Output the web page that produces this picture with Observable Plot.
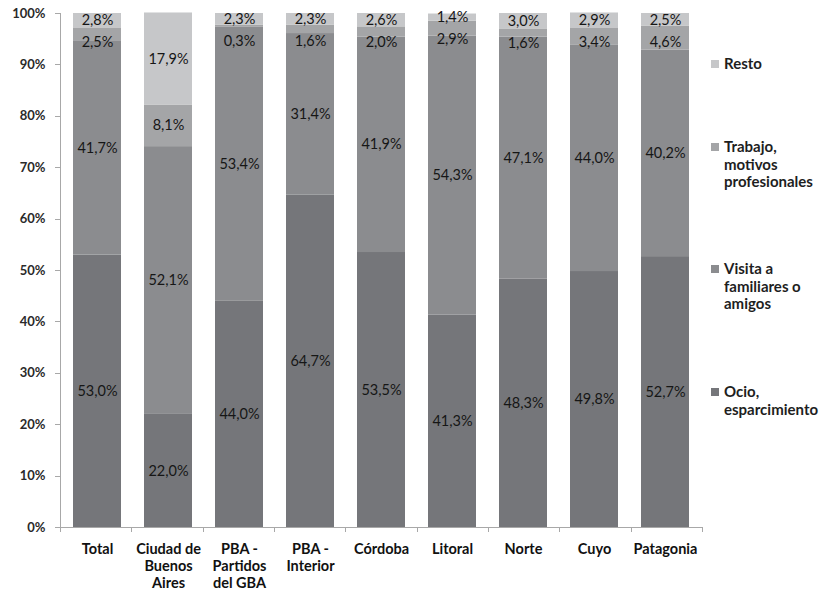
<!DOCTYPE html>
<html>
<head>
<meta charset="utf-8">
<script src="https://cdn.jsdelivr.net/npm/d3@7"></script>
<script src="https://cdn.jsdelivr.net/npm/@observablehq/plot@0.6"></script>
<style>
  body { margin: 0; background: #fff; }
  #chart { position: relative; width: 826px; height: 600px; font-family: Lato, "Open Sans", sans-serif; }
  .legend-item { position: absolute; left: 711px; font-weight: bold; font-size: 15px; line-height: 17.5px; color: #1e1e1e; padding-left: 13px; }
  .legend-item .sw { position: absolute; left: 0; top: 5px; width: 8px; height: 8px; }
</style>
</head>
<body>
<div id="chart"></div>
<script>
// Motivo del viaje por región de destino (% de viajes)
const regions = ["Total", "Ciudad de Buenos Aires", "PBA - Partidos del GBA", "PBA - Interior", "Córdoba", "Litoral", "Norte", "Cuyo", "Patagonia"];
const regionTickLabels = ["Total", "Ciudad de\nBuenos\nAires", "PBA -\nPartidos\ndel GBA", "PBA -\nInterior", "Córdoba", "Litoral", "Norte", "Cuyo", "Patagonia"];
const motives = ["Ocio, esparcimiento", "Visita a familiares o amigos", "Trabajo, motivos profesionales", "Resto"];
const legendLabels = ["Ocio,\nesparcimiento", "Visita a\nfamiliares o\namigos", "Trabajo,\nmotivos\nprofesionales", "Resto"];

const ocio    = [53.0, 22.0, 44.0, 64.7, 53.5, 41.3, 48.3, 49.8, 52.7];
const visita  = [41.7, 52.1, 53.4, 31.4, 41.9, 54.3, 47.1, 44.0, 40.2];
const trabajo = [2.5, 8.1, 0.3, 1.6, 2.0, 2.9, 1.6, 3.4, 4.6];
const resto   = [2.8, 17.9, 2.3, 2.3, 2.6, 1.4, 3.0, 2.9, 2.5];

const yTicks = [0, 10, 20, 30, 40, 50, 60, 70, 80, 90, 100];
const motiveColors = ["#75767a", "#8b8c8f", "#a4a5a7", "#c6c7c9"];

const series = [ocio, visita, trabajo, resto];

// Tidy rows, bottom-to-top stacking order follows `motives`
const rows = [];
regions.forEach((r, i) => {
  motives.forEach((m, k) => rows.push({ region: r, motive: m, value: series[k][i] }));
});

// Label positions: segment midpoints; the thin "Trabajo" segment label is
// nudged below the "Resto" label so the two never collide.
const labels = [];
regions.forEach((r, i) => {
  let base = 0;
  const mids = series.map(s => { const mid = base + s[i] / 2; base += s[i]; return mid; });
  mids[2] = Math.min(mids[2], mids[3] - 4.3);
  series.forEach((s, k) => labels.push({ region: r, value: s[i], y: mids[k] }));
});

const fmt = v => d3.format(".1f")(v).replace(".", ",") + "%";
const tickLabelOf = new Map(regions.map((r, i) => [r, regionTickLabels[i]]));

// Axis lines, y ticks, and category-boundary ticks along the bottom
function axisLines(index, scales, values, dims) {
  const { width, height, marginLeft, marginRight, marginTop, marginBottom } = dims;
  const x0 = marginLeft, x1 = width - marginRight, y0 = height - marginBottom;
  const step = (x1 - x0) / regions.length;
  const g = d3.create("svg:g").attr("stroke", "#a8a8a8").attr("stroke-width", 1).attr("fill", "none");
  g.append("line").attr("x1", x0 + 0.5).attr("x2", x0 + 0.5).attr("y1", marginTop).attr("y2", y0);
  g.append("line").attr("x1", x0).attr("x2", x1).attr("y1", y0 + 0.5).attr("y2", y0 + 0.5);
  for (let k = 0; k <= regions.length; ++k) {
    const xx = Math.round(x0 + k * step) + 0.5;
    g.append("line").attr("x1", xx).attr("x2", xx).attr("y1", y0).attr("y2", y0 + 5);
  }
  for (const t of yTicks) {
    const yy = Math.round(scales.y(t)) + 0.5;
    g.append("line").attr("x1", x0 - 5).attr("x2", x0).attr("y1", yy).attr("y2", yy);
  }
  return g.node();
}

const chart = Plot.plot({
  width: 826,
  height: 600,
  marginLeft: 60,
  marginRight: 124,
  marginTop: 13,
  marginBottom: 73,
  style: { fontFamily: "Lato, 'Open Sans', sans-serif", background: "#fff" },
  x: { domain: regions, paddingInner: 0.33, paddingOuter: 0.165 },
  y: { domain: [0, 100] },
  color: { domain: motives, range: motiveColors },
  marks: [
    Plot.barY(rows, Plot.stackY({ x: "region", y: "value", z: "motive", fill: "motive", order: null })),
    Plot.text(labels, { x: "region", y: "y", text: d => fmt(d.value), fontSize: 14.5, fill: "#161616" }),
    Plot.axisY(yTicks, { tickSize: 0, tickPadding: 15, tickFormat: d => d + "%", fontSize: 13, fontWeight: "bold", color: "#2a2a2a", label: null }),
    Plot.axisX({ tickSize: 0, tickPadding: 14, tickFormat: d => tickLabelOf.get(d), lineHeight: 1.18, fontSize: 14.5, fontWeight: "bold", color: "#111", label: null }),
    axisLines
  ]
});

const container = document.getElementById("chart");
container.appendChild(chart);

// Legend in the right margin, top entry = top of stack
const legendTops = [383, 260, 138, 55];
motives.forEach((m, k) => {
  const item = document.createElement("div");
  item.className = "legend-item";
  item.style.top = legendTops[k] + "px";
  const sw = document.createElement("span");
  sw.className = "sw";
  sw.style.background = motiveColors[k];
  item.appendChild(sw);
  legendLabels[k].split("\n").forEach((line, j) => {
    if (j) item.appendChild(document.createElement("br"));
    item.appendChild(document.createTextNode(line));
  });
  container.appendChild(item);
});
</script>
</body>
</html>
